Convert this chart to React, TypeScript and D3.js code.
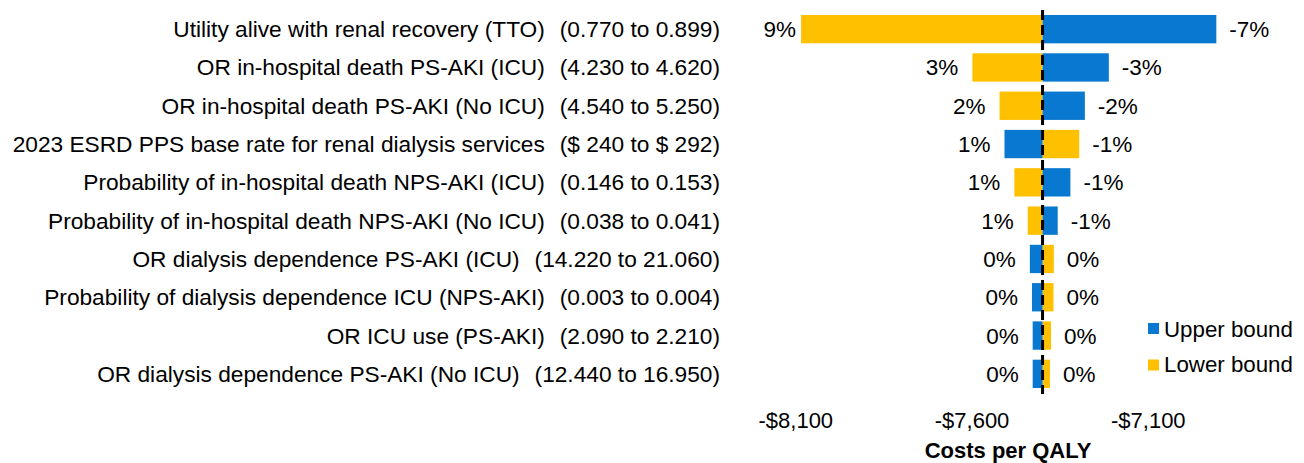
import React from "react";
import * as d3 from "d3";

const paramNames = [
  "Utility alive with renal recovery (TTO)",
  "OR in-hospital death PS-AKI (ICU)",
  "OR in-hospital death PS-AKI (No ICU)",
  "2023 ESRD PPS base rate for renal dialysis services",
  "Probability of in-hospital death NPS-AKI (ICU)",
  "Probability of in-hospital death NPS-AKI (No ICU)",
  "OR dialysis dependence PS-AKI (ICU)",
  "Probability of dialysis dependence ICU (NPS-AKI)",
  "OR ICU use (PS-AKI)",
  "OR dialysis dependence PS-AKI (No ICU)",
];
const paramRanges = [
  "(0.770 to 0.899)",
  "(4.230 to 4.620)",
  "(4.540 to 5.250)",
  "($ 240 to $ 292)",
  "(0.146 to 0.153)",
  "(0.038 to 0.041)",
  "(14.220 to 21.060)",
  "(0.003 to 0.004)",
  "(2.090 to 2.210)",
  "(12.440 to 16.950)",
];
const baseICER = -7400;
const lowerBoundCost = [-8085, -7599, -7522, -7296, -7480, -7442, -7368, -7369, -7376, -7379];
const upperBoundCost = [-6907, -7212, -7280, -7508, -7321, -7357, -7436, -7430, -7428, -7428];
const tickValues = [-8100, -7600, -7100];
const legendLabels = ["Upper bound", "Lower bound"];

const BLUE = "#0878D0";
const YELLOW = "#FFC000";
const FONT = "'Liberation Sans', Arial, Helvetica, sans-serif";

export default function App() {
  const x = d3.scaleLinear().domain([-8100, -7100]).range([795.8, 1148.3]);
  const y = d3
    .scaleBand<string>()
    .domain(paramNames)
    .range([10, 393])
    .paddingInner(0.26)
    .paddingOuter(0.13);
  const bh = y.bandwidth();
  const pct = (v: number) => `${Math.round(((v - baseICER) / baseICER) * 100)}%`;
  const money = (v: number) => (v < 0 ? "-$" : "$") + d3.format(",")(Math.abs(v));
  const x0 = x(baseICER);

  return (
    <svg
      width={1304}
      height={463}
      style={{ position: "absolute", left: 0, top: 0, background: "#fff" }}
      fontFamily={FONT}
    >
      {paramNames.map((name, i) => {
        const yy = y(name)!;
        const cy = yy + bh / 2;
        const lo = lowerBoundCost[i];
        const hi = upperBoundCost[i];
        const leftVal = Math.min(lo, hi);
        const rightVal = Math.max(lo, hi);
        const xl = x(leftVal);
        const xr = x(rightVal);
        return (
          <g key={name}>
            <rect
              x={Math.min(x(lo), x0)}
              y={yy}
              width={Math.abs(x(lo) - x0)}
              height={bh}
              fill={YELLOW}
            />
            <rect
              x={Math.min(x(hi), x0)}
              y={yy}
              width={Math.abs(x(hi) - x0)}
              height={bh}
              fill={BLUE}
            />
            <text
              x={720}
              y={cy + 8}
              fontSize={22.7}
              textAnchor="end"
              fill="#000"
              style={{ whiteSpace: "pre" }}
            >
              <tspan>{name}</tspan>
              <tspan dx={15}>{paramRanges[i]}</tspan>
            </text>
            <text x={Math.max(xl - 14, 796)} y={cy + 8} fontSize={22.5} textAnchor="end" fill="#000">
              {pct(leftVal)}
            </text>
            <text x={xr + 13} y={cy + 8} fontSize={22.5} textAnchor="start" fill="#000">
              {pct(rightVal)}
            </text>
          </g>
        );
      })}
      <line
        x1={x0}
        x2={x0}
        y1={10}
        y2={394}
        stroke="#000"
        strokeWidth={3}
        strokeDasharray="10,5"
      />
      {tickValues.map((t) => (
        <text key={t} x={x(t)} y={428} fontSize={22} textAnchor="middle" fill="#000">
          {money(t)}
        </text>
      ))}
      <text x={1008} y={458} fontSize={22} fontWeight="bold" textAnchor="middle" fill="#000">
        Costs per QALY
      </text>
      {legendLabels.map((l, i) => (
        <g key={l}>
          <rect x={1148} y={323 + i * 36.5} width={11} height={11} fill={i === 0 ? BLUE : YELLOW} />
          <text x={1164} y={337 + i * 35} fontSize={22.3} fill="#000">
            {l}
          </text>
        </g>
      ))}
    </svg>
  );
}
